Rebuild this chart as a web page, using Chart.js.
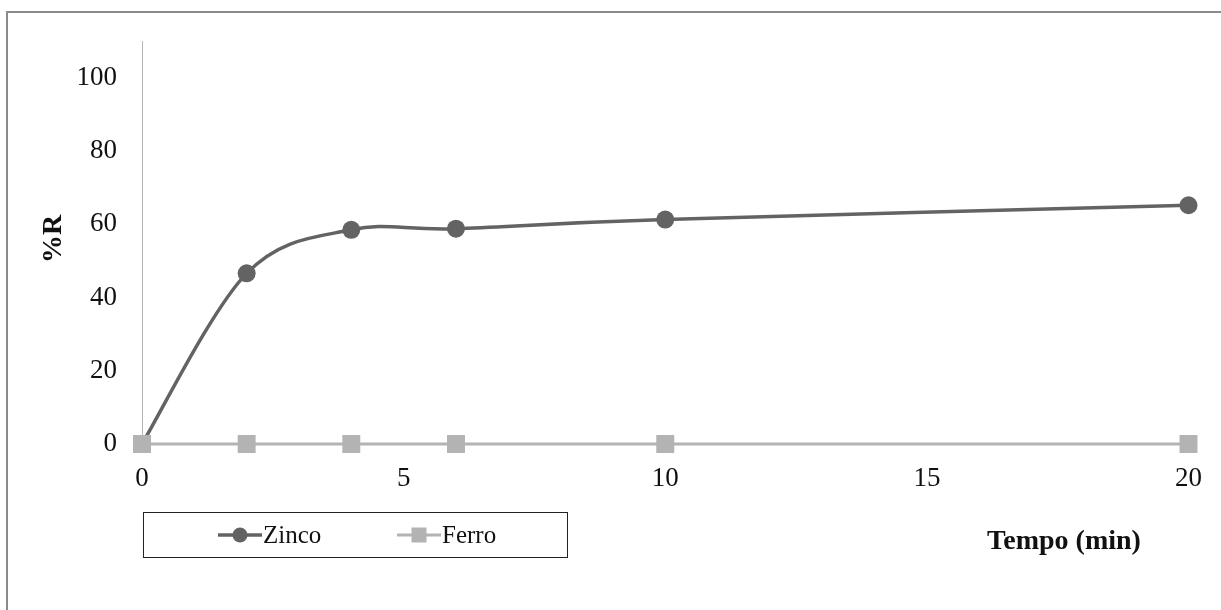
<!DOCTYPE html>
<html>
<head>
<meta charset="utf-8">
<script src="https://cdn.jsdelivr.net/npm/chart.js@4/dist/chart.umd.min.js"></script>
<style>
  html, body { margin: 0; padding: 0; background: #fff; }
  canvas { display: block; }
</style>
</head>
<body>
<canvas id="c" width="1221" height="610"></canvas>
<script>
// Tempo de extração (min)
const tempo = [0, 2, 4, 6, 10, 20];
// %R por metal
const zinco = [0, 46.6, 58.5, 58.8, 61.3, 65.2];
const ferro = [0, 0, 0, 0, 0, 0];
// Marcas dos eixos
const xTicks = [0, 5, 10, 15, 20];
const yTicks = [0, 20, 40, 60, 80, 100];

const seriesNames = ['Zinco', 'Ferro'];
const FONT = "'Liberation Serif', 'Times New Roman', serif";
const zincoColor = '#636363';
const ferroColor = '#b3b3b3';

function toPoints(xs, ys) { return xs.map((x, i) => ({ x: x, y: ys[i] })); }

// Suavização estilo Catmull-Rom (braços de 1/6) sobre os pontos já posicionados pelas escalas
const smoothing = {
  id: 'smoothing',
  beforeDatasetDraw(chart, args) {
    const ds = chart.data.datasets[args.index];
    if (!ds.smooth) return;
    const line = args.meta.dataset;
    if (line.updateControlPoints) line.updateControlPoints(chart.chartArea, 'x');
    const pts = args.meta.data;
    const n = pts.length;
    for (let i = 0; i < n; i++) {
      const p = pts[i];
      const prev = pts[Math.max(i - 1, 0)];
      const next = pts[Math.min(i + 1, n - 1)];
      const dx = (next.x - prev.x) / 6;
      const dy = (next.y - prev.y) / 6;
      p.cp1x = p.x - dx; p.cp1y = p.y - dy;
      p.cp2x = p.x + dx; p.cp2y = p.y + dy;
    }
    line._pointsUpdated = true;
    line._path = undefined;
  }
};

// Moldura externa, legenda em caixa e títulos dos eixos
const decor = {
  id: 'decor',
  afterDraw(chart) {
    const ctx = chart.ctx;
    ctx.save();
    // moldura
    ctx.strokeStyle = '#8a8a8a';
    ctx.lineWidth = 2;
    ctx.beginPath();
    ctx.moveTo(7, 610);
    ctx.lineTo(7, 12);
    ctx.lineTo(1221, 12);
    ctx.stroke();

    // caixa da legenda
    ctx.strokeStyle = '#222';
    ctx.lineWidth = 1;
    ctx.strokeRect(143.5, 512.5, 424, 45);

    const ly = 535;
    const ds = chart.data.datasets;
    // Zinco
    ctx.strokeStyle = ds[0].borderColor;
    ctx.lineWidth = ds[0].borderWidth;
    ctx.beginPath(); ctx.moveTo(218, ly); ctx.lineTo(262, ly); ctx.stroke();
    ctx.fillStyle = ds[0].pointBackgroundColor;
    ctx.beginPath(); ctx.arc(240, ly, 7.5, 0, Math.PI * 2); ctx.fill();
    // Ferro
    ctx.strokeStyle = ds[1].borderColor;
    ctx.lineWidth = ds[1].borderWidth;
    ctx.beginPath(); ctx.moveTo(397, ly); ctx.lineTo(441, ly); ctx.stroke();
    ctx.fillStyle = ds[1].pointBackgroundColor;
    ctx.fillRect(419 - 7.5, ly - 7.5, 15, 15);

    ctx.fillStyle = '#111';
    ctx.font = '25px ' + FONT;
    ctx.textBaseline = 'middle';
    ctx.textAlign = 'left';
    ctx.fillText(ds[0].label, 263, ly + 1);
    ctx.fillText(ds[1].label, 442, ly + 1);

    // título do eixo X
    ctx.font = 'bold 28px ' + FONT;
    ctx.textAlign = 'center';
    ctx.fillText('Tempo (min)', 1064, 542);

    // título do eixo Y
    ctx.translate(53, 239);
    ctx.rotate(-Math.PI / 2);
    ctx.fillText('%R', 0, 1);
    ctx.restore();
  }
};

new Chart(document.getElementById('c'), {
  type: 'line',
  data: {
    datasets: [
      {
        label: seriesNames[0],
        data: toPoints(tempo, zinco),
        borderColor: zincoColor,
        backgroundColor: zincoColor,
        pointBackgroundColor: zincoColor,
        pointBorderColor: zincoColor,
        borderWidth: 3.5,
        pointRadius: 9,
        pointBorderWidth: 0,
        pointStyle: 'circle',
        tension: 0.4,
        smooth: true,
        clip: false,
        order: 1
      },
      {
        label: seriesNames[1],
        data: toPoints(tempo, ferro),
        borderColor: ferroColor,
        backgroundColor: ferroColor,
        pointBackgroundColor: ferroColor,
        pointBorderColor: ferroColor,
        borderWidth: 3,
        pointRadius: 12.7,
        pointBorderWidth: 0,
        pointStyle: 'rect',
        tension: 0,
        clip: false,
        order: 0
      }
    ]
  },
  options: {
    responsive: false,
    animation: false,
    events: [],
    layout: { padding: { left: 0, top: 37, right: 31, bottom: 0 } },
    plugins: {
      legend: { display: false },
      tooltip: { enabled: false },
      title: { display: false }
    },
    scales: {
      x: {
        type: 'linear',
        min: 0,
        max: 20,
        afterFit(s) { s.height = 166; },
        afterBuildTicks(s) { s.ticks = xTicks.map(v => ({ value: v })); },
        grid: { display: false, drawTicks: false },
        border: { display: false },
        ticks: {
          padding: 19,
          color: '#111',
          font: { family: FONT, size: 27 },
          maxRotation: 0
        }
      },
      y: {
        type: 'linear',
        min: 0,
        max: 110,
        afterFit(s) { s.width = 142; },
        afterBuildTicks(s) { s.ticks = yTicks.map(v => ({ value: v })); },
        grid: { display: false, drawTicks: false },
        border: { display: true, color: '#b5b5b5', width: 1 },
        ticks: {
          padding: 25,
          color: '#111',
          font: { family: FONT, size: 27 }
        }
      }
    }
  },
  plugins: [smoothing, decor]
});
</script>
</body>
</html>
